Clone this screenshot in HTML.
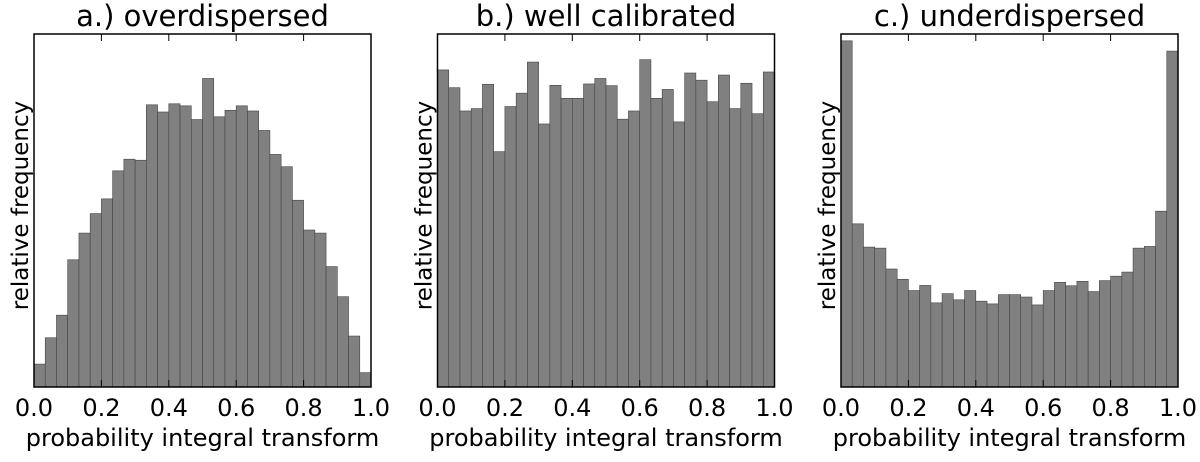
<!DOCTYPE html>
<html><head><meta charset="utf-8"><style>
body{margin:0;background:#fff;}
svg text{font-family:"DejaVu Sans","Liberation Sans",sans-serif;fill:#000;}
</style></head><body>
<svg id="chart" width="1200" height="457" viewBox="0 0 1200 457"></svg>
<script>
const panelTitles = ["a.) overdispersed", "b.) well calibrated", "c.) underdispersed"];
const overdispersed = [67,144,210,372,450,507,550,632,666,663,825,804,828,822,782,902,790,809,822,807,750,680,644,546,459,450,352,264,149,42];
const wellCalibrated = [927,875,807,814,885,688,820,859,950,769,882,844,844,886,902,881,783,807,957,844,870,775,918,897,834,912,814,888,799,921];
const underdispersed = [1012,477,409,406,345,315,282,297,246,273,255,282,251,243,270,270,263,240,282,306,296,309,279,311,324,336,406,411,514,982];
const xTickLabels = ["0.0","0.2","0.4","0.6","0.8","1.0"];
const xTickValues = [0,0.2,0.4,0.6,0.8,1.0];
const yMax = 1032;

const NS="http://www.w3.org/2000/svg";
const svg=document.getElementById('chart');
function mk(tag,attrs,parent){const e=document.createElementNS(NS,tag);for(const k in attrs)e.setAttribute(k,attrs[k]);(parent||svg).appendChild(e);return e;}
const series=[overdispersed,wellCalibrated,underdispersed];
const lefts=[34,437.5,841], W=337, plotTop=34, H=353;
series.forEach((vals,p)=>{
  const L=lefts[p];
  const g=mk('g',{});
  
  
  const xs=v=>L+v*W, ys=v=>plotTop+H-v/yMax*H;
  const n=vals.length, bw=W/n;
  vals.forEach((v,i)=>{
    const r=mk('rect',{x:xs(i/n),y:ys(v),width:bw,height:plotTop+H-ys(v),fill:'#808080',stroke:'#444','stroke-width':0.6},g);
    
    
  });
  const f=mk('rect',{x:L,y:plotTop,width:W,height:H,fill:'none',stroke:'#000','stroke-width':1.5},g);
  
  
  xTickValues.forEach((tv,i)=>{
    const x=xs(tv);
    mk('line',{x1:x,x2:x,y1:plotTop+H,y2:plotTop+H-7,stroke:'#000','stroke-width':1},g);
    mk('line',{x1:x,x2:x,y1:plotTop,y2:plotTop+7,stroke:'#000','stroke-width':1},g);
    const t=mk('text',{x:x,y:416,'text-anchor':'middle','font-size':24},g);
    t.textContent=xTickLabels[i];
    
    
  });
  const tt=mk('text',{x:L+W/2,y:26,'text-anchor':'middle','font-size':29},g);
  tt.textContent=panelTitles[p];
  
  
  const xl=mk('text',{x:L+W/2,y:446,'text-anchor':'middle','font-size':24},g);
  xl.textContent='probability integral transform';
  
  
  const cx=L-14, cy=plotTop+H/2-5;
  const yl=mk('text',{x:cx,y:cy,'text-anchor':'middle','font-size':23,transform:`rotate(-90 ${cx} ${cy}) translate(0 8)`},g);
  yl.textContent='relative frequency';
  
  
});
</script>
</body></html>
